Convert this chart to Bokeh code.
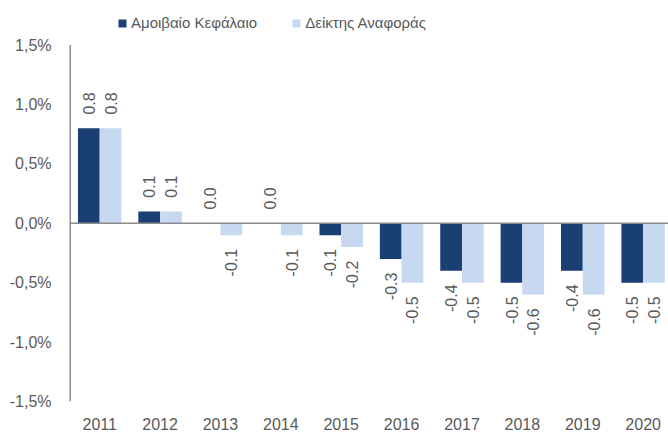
import math
from bokeh.plotting import figure
from bokeh.models import ColumnDataSource, Range1d, FixedTicker, Span, Legend, LegendItem
from bokeh.core.properties import value
from bokeh.embed import file_html
from bokeh.resources import INLINE

years = ["2011", "2012", "2013", "2014", "2015", "2016", "2017", "2018", "2019", "2020"]
fund = [0.8, 0.1, 0.0, 0.0, -0.1, -0.3, -0.4, -0.5, -0.4, -0.5]
bench = [0.8, 0.1, -0.1, -0.1, -0.2, -0.5, -0.5, -0.6, -0.6, -0.5]
y_ticks = [-1.5, -1.0, -0.5, 0.0, 0.5, 1.0, 1.5]
y_tick_labels = ["-1,5%", "-1,0%", "-0,5%", "0,0%", "0,5%", "1,0%", "1,5%"]
series_names = ["Αμοιβαίο Κεφάλαιο", "Δείκτης Αναφοράς"]

Y_MIN, Y_MAX = -1.5, 1.5
X_MIN = -0.5

DARK = "#1A3F73"
LIGHT = "#C6D9F1"
GRAY = "#595959"
AXIS = "#8C8C8C"
FONT = "Liberation Sans"

# frame extends above the axis top so that the legend sits inside it
p = figure(width=668, height=432, output_backend="svg", toolbar_location=None,
           x_range=Range1d(X_MIN, 9.42), y_range=Range1d(Y_MIN, Y_MAX + 45 / 120),
           min_border_left=69, min_border_right=0, min_border_top=0, min_border_bottom=27)
p.outline_line_color = None
p.xgrid.visible = False
p.ygrid.visible = False

xs = list(range(len(years)))
bw = 0.36
src_f = ColumnDataSource(dict(x=[i - bw / 2 for i in xs], top=fund,
                              ly=[v + 0.115 if v >= 0 else v - 0.115 for v in fund],
                              lbl=[f"{v:.1f}" for v in fund],
                              al=["left" if v >= 0 else "right" for v in fund]))
src_b = ColumnDataSource(dict(x=[i + bw / 2 for i in xs], top=bench,
                              ly=[v + 0.115 if v >= 0 else v - 0.115 for v in bench],
                              lbl=[f"{v:.1f}" for v in bench],
                              al=["left" if v >= 0 else "right" for v in bench]))

r1 = p.vbar(x="x", top="top", bottom=0, width=bw, source=src_f, fill_color=DARK, line_color=None)
r2 = p.vbar(x="x", top="top", bottom=0, width=bw, source=src_b, fill_color=LIGHT, line_color=None)

for s in (src_f, src_b):
    p.text(x="x", y="ly", text="lbl", source=s, angle=math.pi / 2, text_align="al",
           text_baseline="middle", text_font=value(FONT), text_font_size="16px", text_color=GRAY)

p.add_layout(Span(location=0, dimension="width", line_color=AXIS, line_width=1.5))
# vertical axis line spanning only the tick range
p.segment(x0=[X_MIN], y0=[Y_MIN], x1=[X_MIN], y1=[Y_MAX], line_color=AXIS, line_width=3)

p.yaxis.ticker = FixedTicker(ticks=y_ticks)
p.yaxis.major_label_overrides = {t: l for t, l in zip(y_ticks, y_tick_labels)}
p.yaxis.major_tick_line_color = None
p.yaxis.minor_tick_line_color = None
p.yaxis.axis_line_color = None
p.yaxis.major_label_text_font = FONT
p.yaxis.major_label_text_font_size = "16px"
p.yaxis.major_label_text_color = GRAY
p.yaxis.major_label_standoff = 12

p.xaxis.ticker = FixedTicker(ticks=xs)
p.xaxis.major_label_overrides = {i: y for i, y in zip(xs, years)}
p.xaxis.major_tick_line_color = None
p.xaxis.minor_tick_line_color = None
p.xaxis.axis_line_color = None
p.xaxis.major_label_text_font = FONT
p.xaxis.major_label_text_font_size = "16px"
p.xaxis.major_label_text_color = GRAY
p.xaxis.major_label_standoff = 10

legend = Legend(items=[LegendItem(label=series_names[0], renderers=[r1]),
                       LegendItem(label=series_names[1], renderers=[r2])],
                orientation="horizontal", location=(48, 370),
                label_text_font=FONT, label_text_font_size="15px", label_text_color=GRAY,
                glyph_width=10, glyph_height=10, spacing=34, label_standoff=4,
                background_fill_alpha=0, border_line_color=None, padding=0, margin=0)
p.add_layout(legend, "center")

open("out.html", "w").write(file_html(p, INLINE))
